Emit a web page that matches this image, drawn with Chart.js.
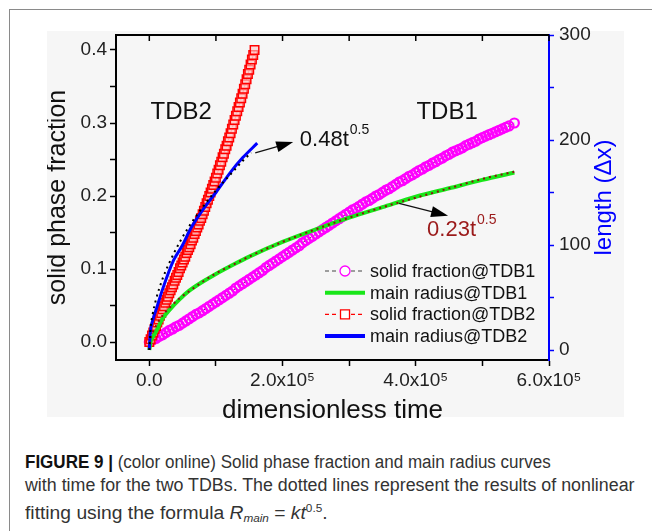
<!DOCTYPE html>
<html>
<head>
<meta charset="utf-8">
<script src="https://cdn.jsdelivr.net/npm/chart.js@4.4.1/dist/chart.umd.min.js"></script>
<style>
html, body { margin: 0; padding: 0; background: #fff; }
body { width: 652px; height: 531px; position: relative; overflow: hidden; font-family: "Liberation Sans", Arial, sans-serif; }
#frame { position: absolute; left: 9px; top: 9px; width: 700px; height: 600px; border-left: 1px solid #8a8a8a; border-top: 1px solid #8a8a8a; }
#plotbg { position: absolute; left: 47px; top: 31px; width: 577px; height: 386px; background: #f6f6f6; }
#wrap { position: absolute; left: 47px; top: 21px; width: 577px; height: 410px; }
#cap { position: absolute; left: 25px; top: 451px; font-size: 18px; line-height: 23px; color: #333; white-space: nowrap; }
#cap span { display: block; transform-origin: 0 0; }
#cap .l1 { transform: scaleX(0.945); }
#cap .l2 { transform: scaleX(0.99); }
#cap .l3 { transform: scaleX(1.07); }
#cap b { color: #111; }
#cap sub { font-size: 11px; vertical-align: -3px; }
#cap sup { font-size: 11px; vertical-align: 7px; }
</style>
</head>
<body>
<div id="frame"></div>
<div id="plotbg"></div>
<div id="wrap"><canvas id="c" width="577" height="410"></canvas></div>
<div id="cap"><span class="l1"><b>FIGURE 9 |</b> (color online) Solid phase fraction and main radius curves</span><span class="l2">with time for the two TDBs. The dotted lines represent the results of nonlinear</span><span class="l3">fitting using the formula <i>R<sub>main</sub></i> = <i>kt</i><sup>0.5</sup>.</span></div>
<script>
// dimensionless time is kept in units of 10^5
// TDB1 solid fraction (magenta circles)
var sfTime1 = [0, 0.05, 0.1, 0.15, 0.2, 0.25, 0.3, 0.35, 0.4, 0.45, 0.5, 0.55, 0.6, 0.65, 0.7, 0.75, 0.8, 0.85, 0.9, 0.95,
  1.0, 1.05, 1.1, 1.15, 1.2, 1.25, 1.3, 1.35, 1.4, 1.45, 1.5, 1.55, 1.6, 1.65, 1.7, 1.75, 1.8, 1.85, 1.9, 1.95,
  2.0, 2.05, 2.1, 2.15, 2.2, 2.25, 2.3, 2.35, 2.4, 2.45, 2.5, 2.55, 2.6, 2.65, 2.7, 2.75, 2.8, 2.85, 2.9, 2.95,
  3.0, 3.05, 3.1, 3.15, 3.2, 3.25, 3.3, 3.35, 3.4, 3.45, 3.5, 3.55, 3.6, 3.65, 3.7, 3.75, 3.8, 3.85, 3.9, 3.95,
  4.0, 4.05, 4.1, 4.15, 4.2, 4.25, 4.3, 4.35, 4.4, 4.45, 4.5, 4.55, 4.6, 4.65, 4.7, 4.75, 4.8, 4.85, 4.9, 4.95,
  5.0, 5.05, 5.1, 5.15, 5.2, 5.25, 5.3, 5.35, 5.4, 5.48];
var sfValue1 = [0, 0.003, 0.005, 0.008, 0.010, 0.013, 0.016, 0.018, 0.021, 0.023, 0.026, 0.029, 0.032, 0.035, 0.038, 0.040, 0.043, 0.046, 0.049, 0.052,
  0.055, 0.058, 0.061, 0.064, 0.067, 0.070, 0.074, 0.077, 0.080, 0.083, 0.086, 0.089, 0.092, 0.095, 0.098, 0.102, 0.105, 0.108, 0.111, 0.114,
  0.117, 0.120, 0.123, 0.126, 0.129, 0.132, 0.136, 0.139, 0.142, 0.145, 0.148, 0.151, 0.154, 0.157, 0.160, 0.163, 0.166, 0.169, 0.172, 0.175,
  0.178, 0.181, 0.183, 0.186, 0.189, 0.192, 0.194, 0.197, 0.200, 0.202, 0.205, 0.208, 0.210, 0.213, 0.216, 0.219, 0.221, 0.224, 0.227, 0.229,
  0.232, 0.235, 0.237, 0.240, 0.242, 0.245, 0.247, 0.250, 0.252, 0.255, 0.257, 0.260, 0.262, 0.264, 0.266, 0.269, 0.271, 0.273, 0.275, 0.278,
  0.280, 0.282, 0.284, 0.286, 0.288, 0.290, 0.292, 0.294, 0.296, 0.300];

// TDB2 solid fraction (red squares)
var sfTime2 = [0, 0.02, 0.04, 0.06, 0.08, 0.10, 0.12, 0.14, 0.16, 0.18, 0.20, 0.22, 0.24, 0.26, 0.28, 0.30, 0.32, 0.34, 0.36, 0.38,
  0.40, 0.42, 0.44, 0.46, 0.48, 0.50, 0.52, 0.54, 0.56, 0.58, 0.60, 0.62, 0.64, 0.66, 0.68, 0.70, 0.72, 0.74, 0.76, 0.78,
  0.80, 0.82, 0.84, 0.86, 0.88, 0.90, 0.92, 0.94, 0.96, 0.98, 1.00, 1.02, 1.04, 1.06, 1.08, 1.10, 1.12, 1.14, 1.16, 1.18,
  1.20, 1.22, 1.24, 1.26, 1.28, 1.30, 1.32, 1.34, 1.36, 1.38, 1.40, 1.42, 1.44, 1.46, 1.48, 1.50, 1.52, 1.54, 1.56, 1.58];
var sfValue2 = [0, 0.004, 0.009, 0.013, 0.018, 0.022, 0.027, 0.031, 0.036, 0.040, 0.045, 0.049, 0.054, 0.058, 0.062, 0.067, 0.071, 0.075, 0.079, 0.084,
  0.088, 0.092, 0.096, 0.101, 0.105, 0.109, 0.113, 0.117, 0.122, 0.126, 0.130, 0.134, 0.139, 0.143, 0.148, 0.152, 0.157, 0.161, 0.166, 0.170,
  0.175, 0.180, 0.185, 0.190, 0.195, 0.200, 0.205, 0.210, 0.215, 0.220, 0.225, 0.231, 0.236, 0.242, 0.247, 0.253, 0.258, 0.264, 0.269, 0.275,
  0.280, 0.286, 0.292, 0.298, 0.304, 0.310, 0.316, 0.322, 0.328, 0.334, 0.340, 0.347, 0.353, 0.360, 0.367, 0.373, 0.380, 0.387, 0.393, 0.400];

// main radius, length in dx (right axis)
var mrTime1 = [0, 0.02, 0.05, 0.1, 0.2, 0.3, 0.45, 0.6, 0.8, 1.0, 1.25, 1.5, 2.0, 2.5, 3.0, 3.5, 4.0, 4.5, 5.0, 5.48];
var mrValue1 = [0, 8, 12, 17.5, 30, 38, 48, 56.5, 65, 72.5, 81, 89, 103, 115, 126, 136, 146, 154, 162, 169];
var mrTime2 = [0, 0.015, 0.05, 0.115, 0.2, 0.365, 0.5, 0.615, 0.865, 1.0, 1.215, 1.4, 1.62];
var mrValue2 = [0, 17, 28, 41, 58, 85.5, 100, 115, 139, 150, 169, 183, 197];

// dotted fits R = k t^0.5
var fitTime1 = [0, 0.01, 0.03, 0.06, 0.1, 0.2, 0.3, 0.45, 0.6, 0.8, 1.0, 1.25, 1.5, 2.0, 2.5, 3.0, 3.5, 4.0, 4.5, 5.0, 5.5];
var fitValue1 = [0, 7, 13, 18, 23, 33, 40, 49, 56, 65, 73, 81, 89, 103, 115, 126, 136, 145, 154, 163, 170];
var fitTime2 = [0, 0.02, 0.05, 0.1, 0.2, 0.3, 0.45, 0.6, 0.8, 1.0, 1.2, 1.4, 1.53];
var fitValue2 = [0, 21, 34, 48, 68, 83, 102, 118, 136, 152, 166, 180, 188];

var xTicks = [0, 2, 4, 6];
var fracTicks = [0, 0.1, 0.2, 0.3, 0.4];
var lengthTicks = [0, 100, 200, 300];

var FONT = '"Liberation Sans", Arial, sans-serif';
Chart.defaults.font.family = FONT;
Chart.defaults.color = '#222';

function pts(t, v) {
  return t.map(function (x, i) { return { x: x, y: v[i] }; });
}

// top frame line with inward ticks
var topAxis = {
  id: 'topAxis',
  afterDraw: function (chart) {
    var ctx = chart.ctx, ca = chart.chartArea, x = chart.scales.x;
    ctx.save();
    ctx.strokeStyle = '#000';
    ctx.lineWidth = 2;
    ctx.beginPath();
    ctx.moveTo(ca.left - 1, ca.top);
    ctx.lineTo(ca.right, ca.top);
    ctx.stroke();
    ctx.lineWidth = 1.5;
    x.ticks.forEach(function (t) {
      var px = x.getPixelForValue(t.value);
      ctx.beginPath();
      ctx.moveTo(px, ca.top);
      ctx.lineTo(px, ca.top + 6);
      ctx.stroke();
    });
    ctx.restore();
  }
};

// right axis title reads bottom to top
var rightTitle = {
  id: 'rightTitle',
  afterDraw: function (chart) {
    var ctx = chart.ctx, ca = chart.chartArea;
    ctx.save();
    ctx.translate(ca.right + 55, (ca.top + ca.bottom) / 2);
    ctx.rotate(-Math.PI / 2);
    ctx.fillStyle = '#0000ff';
    ctx.font = '24px ' + FONT;
    ctx.textAlign = 'center';
    ctx.textBaseline = 'middle';
    ctx.fillText('length (\u0394x)', 0, 0);
    ctx.restore();
  }
};

function supText(ctx, x, y, base, sup, size, color) {
  ctx.fillStyle = color;
  ctx.textAlign = 'left';
  ctx.textBaseline = 'middle';
  ctx.font = size + 'px ' + FONT;
  ctx.fillText(base, x, y);
  var w = ctx.measureText(base).width;
  ctx.font = Math.round(size * 0.62) + 'px ' + FONT;
  ctx.fillText(sup, x + w + 1, y - size * 0.45);
}

function arrow(ctx, x1, y1, x2, y2) {
  var a = Math.atan2(y2 - y1, x2 - x1);
  ctx.save();
  ctx.strokeStyle = '#111';
  ctx.fillStyle = '#000';
  ctx.lineWidth = 1.2;
  ctx.beginPath();
  ctx.moveTo(x1, y1);
  ctx.lineTo(x2 - 14 * Math.cos(a), y2 - 14 * Math.sin(a));
  ctx.stroke();
  ctx.translate(x2, y2);
  ctx.rotate(a);
  ctx.beginPath();
  ctx.moveTo(0, 0);
  ctx.lineTo(-17, -5.5);
  ctx.lineTo(-17, 5.5);
  ctx.closePath();
  ctx.fill();
  ctx.restore();
}

// annotation anchors in data units (time x1e5, fraction)
var notes = {
  id: 'notes',
  afterDatasetsDraw: function (chart) {
    var ctx = chart.ctx, x = chart.scales.x, y = chart.scales.y;
    var px = function (t) { return x.getPixelForValue(t); };
    var py = function (f) { return y.getPixelForValue(f); };
    ctx.save();
    ctx.fillStyle = '#111';
    ctx.font = '24px ' + FONT;
    ctx.textAlign = 'center';
    ctx.textBaseline = 'middle';
    ctx.fillText('TDB2', px(0.48), py(0.314));
    ctx.fillText('TDB1', px(4.47), py(0.314));
    arrow(ctx, px(1.59), py(0.259), px(2.16), py(0.274));
    supText(ctx, px(2.26), py(0.277), '0.48t', '0.5', 22, '#111');
    arrow(ctx, px(3.75), py(0.190), px(4.485), py(0.173));
    supText(ctx, px(4.17), py(0.154), '0.23t', '0.5', 22, '#9b1a1a');
    ctx.restore();
  }
};

var legendOrder = ['solid fraction@TDB1', 'main radius@TDB1', 'solid fraction@TDB2', 'main radius@TDB2'];

var legendBox = {
  id: 'legendBox',
  afterDatasetsDraw: function (chart) {
    var ctx = chart.ctx, ca = chart.chartArea;
    ctx.save();
    legendOrder.forEach(function (name, i) {
      var ds = chart.data.datasets.find(function (d) { return d.label === name; });
      var yy = ca.bottom - 89 + i * 21.7;
      var x0 = ca.right - 224, x1 = ca.right - 184, xm = (x0 + x1) / 2;
      ctx.beginPath();
      if (ds.pointRadius > 0) {
        ctx.strokeStyle = ds.borderColor;
        ctx.lineWidth = 1.2;
        ctx.setLineDash([4, 3]);
        ctx.moveTo(x0, yy); ctx.lineTo(xm - 6, yy);
        ctx.moveTo(xm + 6, yy); ctx.lineTo(x1, yy);
        ctx.stroke();
        ctx.setLineDash([]);
        ctx.strokeStyle = ds.pointBorderColor;
        ctx.fillStyle = '#fff';
        ctx.lineWidth = 1.3;
        ctx.beginPath();
        if (ds.pointStyle === 'rect') {
          ctx.rect(xm - 4.5, yy - 4.5, 9, 9);
        } else {
          ctx.arc(xm, yy, 5, 0, Math.PI * 2);
        }
        ctx.fill();
        ctx.stroke();
      } else {
        ctx.strokeStyle = ds.borderColor;
        ctx.lineWidth = 4;
        ctx.moveTo(x0, yy); ctx.lineTo(x1, yy);
        ctx.stroke();
      }
      ctx.fillStyle = '#111';
      ctx.font = '18px ' + FONT;
      ctx.textAlign = 'left';
      ctx.textBaseline = 'middle';
      ctx.fillText(name, ca.right - 179, yy + 1);
    });
    ctx.restore();
  }
};

var smooth = { cubicInterpolationMode: 'monotone' };

new Chart(document.getElementById('c'), {
  type: 'line',
  data: {
    datasets: [
      Object.assign({
        label: 'fit@TDB2', data: pts(fitTime2, fitValue2), yAxisID: 'y2', order: 0,
        borderColor: '#000', borderWidth: 2, borderDash: [2, 4], pointRadius: 0
      }, smooth),
      Object.assign({
        label: 'fit@TDB1', data: pts(fitTime1, fitValue1), yAxisID: 'y2', order: 0,
        borderColor: '#8b1010', borderWidth: 2, borderDash: [2, 4], pointRadius: 0
      }, smooth),
      Object.assign({
        label: 'main radius@TDB2', data: pts(mrTime2, mrValue2), yAxisID: 'y2', order: 1,
        borderColor: '#0000ff', borderWidth: 3, pointRadius: 0
      }, smooth),
      Object.assign({
        label: 'main radius@TDB1', data: pts(mrTime1, mrValue1), yAxisID: 'y2', order: 2,
        borderColor: '#19e619', borderWidth: 4, pointRadius: 0
      }, smooth),
      {
        label: 'solid fraction@TDB2', data: pts(sfTime2, sfValue2), yAxisID: 'y', order: 3,
        borderColor: '#ff0000', borderWidth: 1, borderDash: [4, 3],
        pointStyle: 'rect', pointRadius: 6, pointBorderWidth: 1.5,
        pointBorderColor: '#ff0000', pointBackgroundColor: 'rgba(255,200,200,0.6)'
      },
      {
        label: 'solid fraction@TDB1', data: pts(sfTime1, sfValue1), yAxisID: 'y', order: 4,
        borderColor: '#444', borderWidth: 1, borderDash: [4, 3],
        pointStyle: 'circle', pointRadius: 4.5, pointBorderWidth: 2.2,
        pointBorderColor: '#ff00ff', pointBackgroundColor: 'rgba(255,255,255,0)'
      }
    ]
  },
  options: {
    responsive: false,
    animation: false,
    devicePixelRatio: 1,
    layout: { padding: { top: 14, left: 0, right: 0, bottom: 0 } },
    plugins: { legend: { display: false }, tooltip: { enabled: false } },
    scales: {
      x: {
        type: 'linear', position: 'bottom', min: -0.5, max: 6,
        border: { color: '#000', width: 2 },
        grid: { drawOnChartArea: false, drawTicks: true, tickLength: 6, tickColor: '#000', tickWidth: 1.5 },
        ticks: {
          stepSize: 1, includeBounds: false, autoSkip: false, maxRotation: 0, padding: 3,
          font: { size: 19 }, color: '#222',
          callback: function (v) {
            if (xTicks.indexOf(v) < 0) return '';
            return v === 0 ? '0.0' : v.toFixed(1) + 'x10\u2075';
          }
        },
        title: { display: true, text: 'dimensionless time', font: { size: 26 }, color: '#111', padding: { top: 0, bottom: 5 } },
        afterFit: function (s) { s.height = 71; s.paddingLeft = 0; s.paddingRight = 0; }
      },
      y: {
        type: 'linear', position: 'left', min: -0.0245, max: 0.4205,
        border: { color: '#000', width: 2 },
        grid: { drawOnChartArea: false, drawTicks: true, tickLength: 6, tickColor: '#000', tickWidth: 1.5 },
        ticks: {
          stepSize: 0.05, includeBounds: false, autoSkip: false, padding: 3,
          font: { size: 19 }, color: '#222',
          callback: function (v) {
            var k = Math.round(v * 20);
            var f = k / 20;
            return fracTicks.indexOf(f) >= 0 ? f.toFixed(1) : '';
          }
        },
        title: { display: true, text: 'solid phase fraction', font: { size: 25, lineHeight: 0.9 }, color: '#111', padding: 0 },
        afterFit: function (s) { s.width = 69; s.paddingTop = 0; s.paddingBottom = 0; }
      },
      y2: {
        type: 'linear', position: 'right', min: -9.5, max: 300,
        border: { color: '#0000ff', width: 2 },
        grid: { drawOnChartArea: false, drawTicks: true, tickLength: 5, tickColor: '#0000ff', tickWidth: 1.5 },
        ticks: {
          stepSize: 50, includeBounds: false, autoSkip: false, padding: 5,
          font: { size: 19 }, color: '#222',
          callback: function (v) { return lengthTicks.indexOf(v) >= 0 ? String(v) : ''; }
        },
        afterFit: function (s) { s.width = 75; s.paddingTop = 0; s.paddingBottom = 0; }
      }
    }
  },
  plugins: [topAxis, rightTitle, notes, legendBox]
});
</script>
</body>
</html>
